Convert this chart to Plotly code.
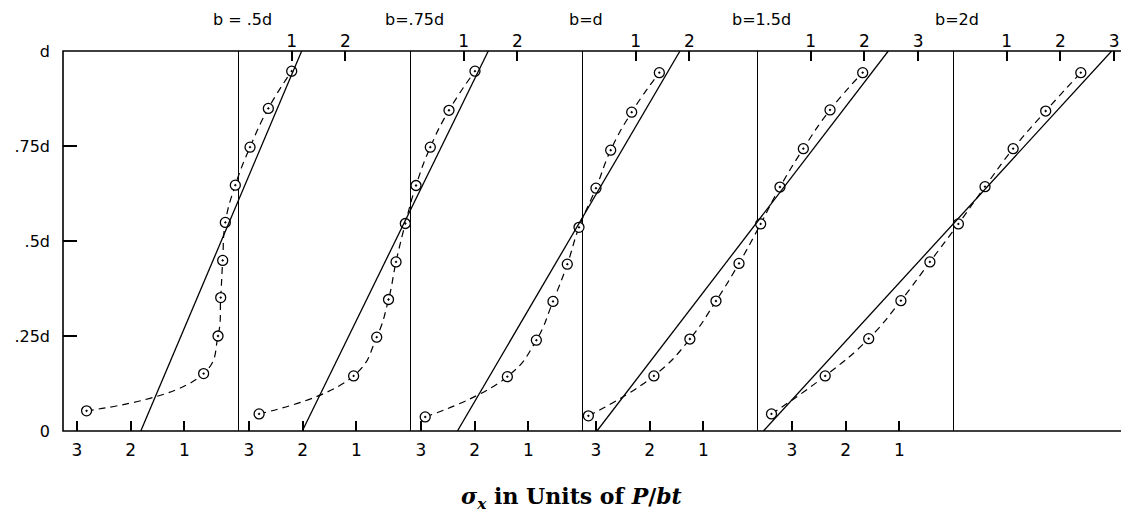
import plotly.graph_objects as go

# ---------------- data ----------------
panel_titles = ["b = .5d", "b=.75d", "b=d", "b=1.5d", "b=2d"]

# depth (fraction of d) and sigma_x (units of P/bt, tension +) of the test points
depth_1 = [0.053, 0.151, 0.250, 0.351, 0.449, 0.549, 0.647, 0.747, 0.849, 0.947]
sigma_1 = [-2.82, -0.64, -0.372, -0.322, -0.285, -0.236, -0.05, 0.224, 0.565, 1.00]
depth_2 = [0.045, 0.145, 0.247, 0.346, 0.445, 0.546, 0.646, 0.747, 0.844, 0.947]
sigma_2 = [-2.81, -1.05, -0.62, -0.40, -0.26, -0.087, 0.112, 0.378, 0.726, 1.21]
depth_3 = [0.037, 0.143, 0.239, 0.341, 0.439, 0.536, 0.639, 0.739, 0.839, 0.943]
sigma_3 = [-2.92, -1.39, -0.85, -0.54, -0.274, -0.056, 0.26, 0.534, 0.925, 1.44]
depth_4 = [0.040, 0.145, 0.242, 0.342, 0.441, 0.545, 0.642, 0.743, 0.845, 0.943]
sigma_4 = [-3.14, -1.92, -1.25, -0.764, -0.335, 0.068, 0.428, 0.863, 1.36, 1.968]
depth_5 = [0.045, 0.145, 0.243, 0.343, 0.445, 0.545, 0.643, 0.743, 0.842, 0.943]
sigma_5 = [-3.38, -2.38, -1.57, -0.97, -0.43, 0.10, 0.596, 1.12, 1.726, 2.38]

depths = [depth_1, depth_2, depth_3, depth_4, depth_5]
sigmas = [sigma_1, sigma_2, sigma_3, sigma_4, sigma_5]

# straight-line (beam theory) stress at depth 0 and at depth d
line_depth = [0.0, 1.0]
line_sigma_at_0 = [-1.81, -2.006, -2.32, -2.98, -3.53]
line_sigma_at_d = [1.186, 1.458, 1.825, 2.445, 2.955]

# tick labels
top_ticks = [[1, 2], [1, 2], [1, 2], [1, 2, 3], [1, 2, 3]]
bottom_ticks = [3, 2, 1]
y_tickvals = [0, 0.25, 0.5, 0.75, 1.0]
y_ticktext = ["0", ".25d", ".5d", ".75d", "d"]

# ---------------- layout constants ----------------
OFF = 8                                      # default page margin of the browser
W, H = 1129 - OFF, 515 - OFF
PL, PR, PT, PB = 63 - OFF, 1124 - OFF, 51 - OFF, 431 - OFF   # plot area in pixels
UNIT_PX = 53.7                               # pixels per unit of P/bt
ZERO_PX = [238 - OFF, 410 - OFF, 582 - OFF, 757 - OFF, 953 - OFF]

FONT = "DejaVu Sans"
fig = go.Figure()

layout_axes = {}
n = len(panel_titles)
for k in range(n):
    lo = -(ZERO_PX[k] - PL) / UNIT_PX
    hi = (PR - ZERO_PX[k]) / UNIT_PX
    bname = "xaxis" if k == 0 else f"xaxis{k + 1}"
    tname = f"xaxis{k + 1 + n}"
    base = dict(range=[lo, hi], showgrid=False, showline=False, anchor="y",
                automargin=False, fixedrange=True,
                ticks="inside", ticklen=10, tickwidth=1.5, tickcolor="black",
                tickfont=dict(family=FONT, size=17, color="black"))
    b = dict(base, side="bottom", tickvals=[-v for v in bottom_ticks],
             ticktext=[str(v) for v in bottom_ticks], zeroline=True,
             zerolinecolor="black", zerolinewidth=1, ticklabelstandoff=7)
    if k > 0:
        b["overlaying"] = "x"
    t = dict(base, side="top", tickvals=top_ticks[k],
             ticktext=[str(v) for v in top_ticks[k]], zeroline=False,
             overlaying="x", ticklabelstandoff=0)
    layout_axes[bname] = b
    layout_axes[tname] = t

    xref = "x" if k == 0 else f"x{k + 1}"
    xref_top = f"x{k + 1 + n}"
    # theory straight line (drawn on the panel's top axis, same scale)
    fig.add_trace(go.Scatter(
        x=[line_sigma_at_0[k], line_sigma_at_d[k]], y=line_depth, xaxis=xref_top, yaxis="y",
        mode="lines", line=dict(color="black", width=1.3), showlegend=False,
        hoverinfo="skip"))
    # measured points with dashed curve
    fig.add_trace(go.Scatter(
        x=sigmas[k], y=depths[k], xaxis=xref, yaxis="y",
        mode="lines+markers",
        line=dict(color="black", width=1.2, dash="7px,5px", shape="spline", smoothing=1.3),
        marker=dict(symbol="circle-dot", size=10, color="white",
                    line=dict(color="black", width=1.3)),
        showlegend=False))
    fig.add_annotation(x=0, xref=xref, y=1, yref="paper", yshift=32, xshift=4,
                       yanchor="middle", text=panel_titles[k], showarrow=False,
                       font=dict(family=FONT, size=16, color="black"))

fig.update_layout(**layout_axes)
fig.update_layout(
    width=W, height=H,
    margin=dict(l=PL, r=W - PR, t=PT, b=H - PB, autoexpand=False),
    paper_bgcolor="white", plot_bgcolor="white",
    yaxis=dict(range=[0, 1], tickvals=y_tickvals, ticktext=y_ticktext,
               ticks="inside", ticklen=14, tickwidth=1.5, tickcolor="black",
               showgrid=False, zeroline=False, showline=False, automargin=False,
               fixedrange=True, ticklabelstandoff=12,
               tickfont=dict(family=FONT, size=16, color="black")),
)

# frame
fig.add_shape(type="rect", xref="paper", yref="paper", x0=0, x1=1, y0=0, y1=1,
              line=dict(color="black", width=1.6))

fig.add_annotation(
    x=(571 - OFF - PL) / (PR - PL), xref="paper",
    y=1 - (498 - OFF - PT) / (PB - PT), yref="paper", yanchor="middle",
    text="<i>σ<sub>x</sub></i> in Units of <i>P</i>/<i>bt</i>", showarrow=False,
    font=dict(family="DejaVu Serif", size=22, color="black", weight="bold"))

fig.write_html("out.html")
